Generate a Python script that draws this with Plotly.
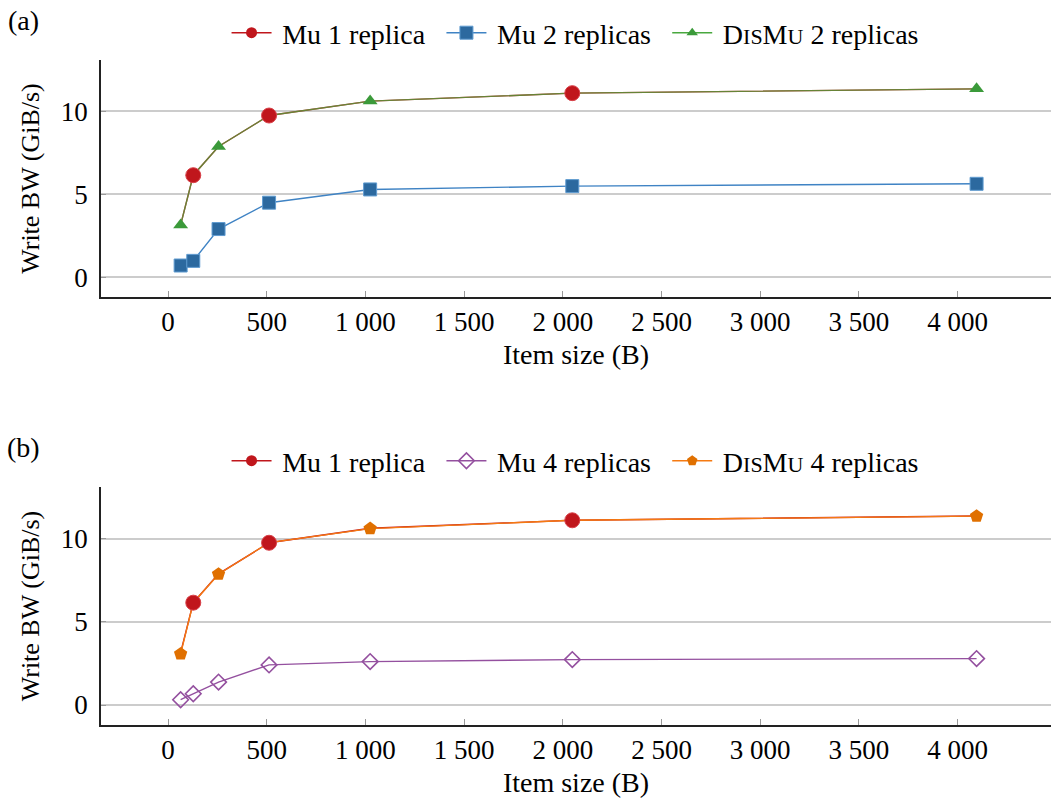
import plotly.graph_objects as go

# ---------------- data ----------------
ITEM_SIZES = [64, 128, 256, 512, 1024, 2048, 4096]
MU_1_REPLICA = [3.15, 6.15, 7.88, 9.75, 10.62, 11.10, 11.36]
MU_2_REPLICAS = [0.70, 0.98, 2.90, 4.49, 5.29, 5.49, 5.63]
DISMU_2_REPLICAS = [3.15, 6.15, 7.88, 9.75, 10.62, 11.10, 11.36]
MU_4_REPLICAS = [0.32, 0.68, 1.38, 2.41, 2.61, 2.73, 2.79]
DISMU_4_REPLICAS = [3.07, 6.15, 7.86, 9.76, 10.60, 11.10, 11.35]

X_TICK_VALUES = [0, 500, 1000, 1500, 2000, 2500, 3000, 3500, 4000]
X_TICK_LABELS = ["0", "500", "1 000", "1 500", "2 000", "2 500", "3 000", "3 500", "4 000"]
Y_TICK_VALUES = [0, 5, 10]
Y_TICK_LABELS = ["0", "5", "10"]

DISMU_LABEL = ("D<span style='font-size:22px'>IS</span>M"
               "<span style='font-size:22px'>U</span>")

# ---------------- style ----------------
FONT = "Liberation Serif"
FS = 28
FS_Y = 26
RED = "#c0161c"
BLUE_LINE = "#3f83c4"
BLUE_MARK = "#2c699f"
BLUE_EDGE = "#5f9bd0"
GREEN_LINE = "#49a83f"
GREEN_MARK = "#3b9a3a"
ORANGE_LINE = "#f57a12"
ORANGE_MARK = "#e07000"
PURPLE = "#94509f"
GRID = "#cccccc"
PAD_L = "\u2009"
PAD_R = "\u2009\u2009"

fig = go.Figure()


def every_other(seq, start):
    return [v if (i % 2) == start else None for i, v in enumerate(seq)]


def add_panel(xa, ya, legend, series_b, name_b, dis, name_d, b_style, d_style):
    # Mu 1 replica line (full data)
    fig.add_trace(go.Scatter(x=ITEM_SIZES, y=MU_1_REPLICA, mode="lines",
                             line=dict(color=RED, width=1.4), xaxis=xa, yaxis=ya,
                             showlegend=False, hoverinfo="skip"))
    # second series
    fig.add_trace(go.Scatter(x=ITEM_SIZES, y=series_b, mode="lines+markers",
                             name=PAD_L + name_b + PAD_R, legend=legend, xaxis=xa, yaxis=ya,
                             line=dict(color=b_style["line"], width=1.4),
                             marker=b_style["marker"], legendrank=2))
    # DisMu line (full data) on top of Mu 1 line
    fig.add_trace(go.Scatter(x=ITEM_SIZES, y=dis, mode="lines",
                             line=dict(color=d_style["line"], width=1.4),
                             opacity=d_style["opacity"], xaxis=xa, yaxis=ya,
                             showlegend=False, hoverinfo="skip"))
    # DisMu markers (every other point, starting at first)
    fig.add_trace(go.Scatter(x=every_other(ITEM_SIZES, 0), y=every_other(dis, 0),
                             mode="markers", marker=d_style["marker"],
                             xaxis=xa, yaxis=ya, showlegend=False))
    # Mu 1 markers (every other point, starting at second)
    fig.add_trace(go.Scatter(x=every_other(ITEM_SIZES, 1), y=every_other(MU_1_REPLICA, 1),
                             mode="markers", xaxis=xa, yaxis=ya, showlegend=False,
                             marker=dict(symbol="circle", size=15, color=RED,
                                         line=dict(color="#d84048", width=1))))
    # legend entries
    fig.add_trace(go.Scatter(x=[None], y=[None], mode="lines+markers",
                             name=PAD_L + "Mu 1 replica" + PAD_R, legendrank=1,
                             legend=legend, xaxis=xa, yaxis=ya,
                             line=dict(color=RED, width=1.4),
                             marker=dict(symbol="circle", size=11, color=RED)))
    fig.add_trace(go.Scatter(x=[None], y=[None], mode="lines+markers",
                             name=PAD_L + name_d, legendrank=3,
                             legend=legend, xaxis=xa, yaxis=ya,
                             line=dict(color=d_style["line"], width=1.4),
                             marker=d_style["legend_marker"]))


add_panel("x", "y", "legend", MU_2_REPLICAS, "Mu 2 replicas", DISMU_2_REPLICAS,
          DISMU_LABEL + " 2 replicas",
          dict(line=BLUE_LINE,
               marker=dict(symbol="square", size=13, color=BLUE_MARK,
                           line=dict(color=BLUE_EDGE, width=1))),
          dict(line=GREEN_LINE, opacity=0.75,
               marker=dict(symbol="triangle-up", size=13, color=GREEN_MARK),
               legend_marker=dict(symbol="triangle-up", size=10, color=GREEN_MARK)))

add_panel("x2", "y2", "legend2", MU_4_REPLICAS, "Mu 4 replicas", DISMU_4_REPLICAS,
          DISMU_LABEL + " 4 replicas",
          dict(line=PURPLE,
               marker=dict(symbol="diamond-open", size=12, color=PURPLE,
                           line=dict(color=PURPLE, width=1.6))),
          dict(line=ORANGE_LINE, opacity=1.0,
               marker=dict(symbol="pentagon", size=14, color=ORANGE_MARK),
               legend_marker=dict(symbol="pentagon", size=11, color=ORANGE_MARK)))

W, H = 1051, 804
L = 101
XRANGE = [-339.4, 4473]
YRANGE = [-1.2, 13.1]


def xaxis_cfg(anchor):
    return dict(range=XRANGE, anchor=anchor, domain=[0, 1],
                tickvals=X_TICK_VALUES, ticktext=X_TICK_LABELS,
                ticks="inside", ticklen=6, tickwidth=1, tickcolor="#999999",
                showline=True, linecolor="#222222", linewidth=1.5,
                showgrid=False, zeroline=False,
                tickfont=dict(family=FONT, size=27, color="black"),
                ticklabelstandoff=0,
                title=dict(text="Item size (B)", standoff=8,
                           font=dict(family=FONT, size=FS, color="black")))


def yaxis_cfg(anchor, dom):
    return dict(range=YRANGE, anchor=anchor, domain=dom,
                tickvals=Y_TICK_VALUES, ticktext=Y_TICK_LABELS,
                ticks="inside", ticklen=5, tickwidth=1, tickcolor="#999999",
                showline=True, linecolor="#222222", linewidth=1.5,
                showgrid=True, gridcolor=GRID, gridwidth=1.5, zeroline=False,
                tickfont=dict(family=FONT, size=27, color="black"),
                ticklabelstandoff=6,
                title=dict(text="Write BW (GiB/s)", standoff=14,
                           font=dict(family=FONT, size=FS_Y, color="black")))


def legend_cfg(ypx):
    return dict(orientation="h", x=0.499, xanchor="center", y=1 - ypx / H,
                yanchor="middle", font=dict(family=FONT, size=FS, color="black"),
                bgcolor="rgba(0,0,0,0)", itemwidth=40, tracegroupgap=0)


fig.update_layout(
    width=W, height=H,
    margin=dict(l=L, r=0, t=0, b=0),
    paper_bgcolor="white", plot_bgcolor="white",
    font=dict(family=FONT, size=FS, color="black"),
    xaxis=xaxis_cfg("y"),
    yaxis=yaxis_cfg("x", [1 - 297 / H, 1 - 60 / H]),
    xaxis2=xaxis_cfg("y2"),
    yaxis2=yaxis_cfg("x2", [1 - 725 / H, 1 - 487 / H]),
    legend=legend_cfg(33),
    legend2=legend_cfg(461),
)

pw = W - L
for label, (px, py) in [("(a)", (23, 20)), ("(b)", (23, 447))]:
    fig.add_annotation(text=label, x=(px - L) / pw, y=1 - py / H,
                       xref="paper", yref="paper", showarrow=False,
                       xanchor="center", yanchor="middle",
                       font=dict(family=FONT, size=FS, color="black"))

fig.write_html("out.html")
